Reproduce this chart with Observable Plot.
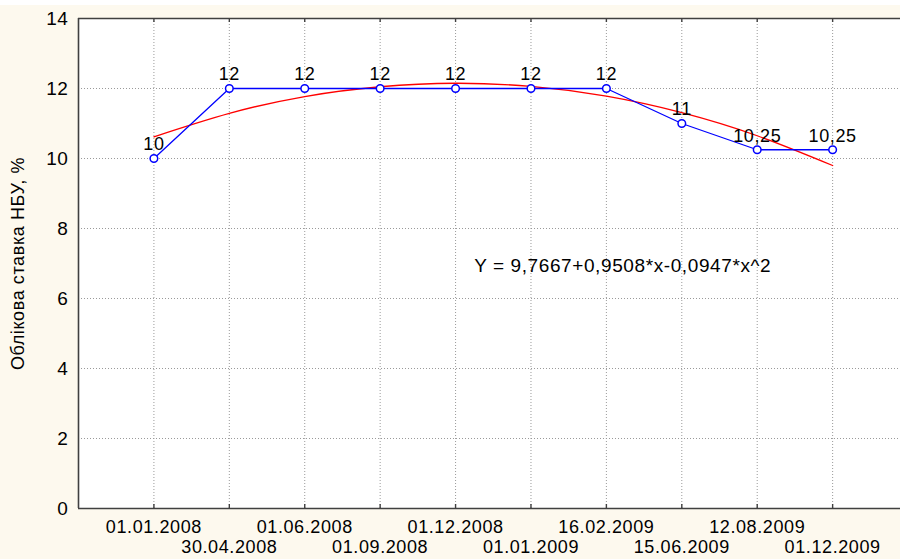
<!DOCTYPE html>
<html>
<head>
<meta charset="utf-8">
<script src="https://cdn.jsdelivr.net/npm/d3@7"></script>
<script src="https://cdn.jsdelivr.net/npm/@observablehq/plot@0.6"></script>
<style>
  html, body { margin: 0; padding: 0; background: #fdf9ee; }
  #wrap { width: 900px; height: 559px; border-top: 5px solid #ffffff; box-sizing: border-box; overflow: hidden; }
  svg { display: block; }
</style>
</head>
<body>
<div id="wrap"></div>
<script>
// Data
const dates = ["01.01.2008", "30.04.2008", "01.06.2008", "01.09.2008", "01.12.2008",
               "01.01.2009", "16.02.2009", "15.06.2009", "12.08.2009", "01.12.2009"];
const rates = [10, 12, 12, 12, 12, 12, 12, 11, 10.25, 10.25];
// red fitted trend curve, read at each observation
const trend = [10.62, 11.29, 11.77, 12.05, 12.15, 12.06, 11.78, 11.31, 10.65, 9.80];
const yTicks = [0, 2, 4, 6, 8, 10, 12, 14];
const equation = "Y = 9,7667+0,9508*x-0,0947*x^2";
const yLabel = "Облікова ставка НБУ, %";

const idx = dates.map((d, i) => i + 1);
const rows = dates.map((d, i) => ({i: i + 1, date: d, rate: rates[i], trend: trend[i],
  label: String(rates[i]).replace(".", ",")}));
const row1 = idx.filter(i => i % 2 === 1);
const row2 = idx.filter(i => i % 2 === 0);

const frameH = 554 - 13 - 51;

const chart = Plot.plot({
  width: 900,
  height: 554,
  marginLeft: 78,
  marginRight: 0,
  marginTop: 13,
  marginBottom: 51,
  x: {domain: [0, 10.9]},
  y: {domain: [0, 14]},
  style: {fontFamily: "'Liberation Sans', Arial, sans-serif", background: "transparent", color: "#000", letterSpacing: "0.6px"},
  marks: [
    Plot.frame({fill: "white", stroke: "none"}),
    Plot.gridX(idx, {stroke: "#9a9a9a", strokeOpacity: 1, strokeDasharray: "1,2"}),
    Plot.gridY(yTicks.filter(t => t > 0 && t < 14), {stroke: "#9a9a9a", strokeOpacity: 1, strokeDasharray: "1,2"}),
    Plot.ruleY([0, 14], {stroke: "#404040", strokeWidth: 1.6}),
    Plot.ruleX([0], {stroke: "#404040", strokeWidth: 1.6}),
    Plot.ruleX(idx, {stroke: "#404040", strokeWidth: 1.4, insetTop: frameH - 4}),
    Plot.ruleX(idx, {stroke: "#404040", strokeWidth: 1.4, insetBottom: frameH - 4}),
    Plot.axisX(row1, {tickSize: 0, tickPadding: 12, fontSize: 18, tickFormat: i => dates[i - 1], label: null}),
    Plot.axisX(row2, {tickSize: 0, tickPadding: 32, fontSize: 18, tickFormat: i => dates[i - 1], label: null}),
    Plot.axisY(yTicks, {tickSize: 0, tickPadding: 10, fontSize: 19, label: null}),
    Plot.text([yLabel], {frameAnchor: "left", textAnchor: "middle", rotate: -90, dx: -60, fontSize: 18, fill: "#000"}),
    Plot.line(rows, {x: "i", y: "trend", stroke: "#ff0000", strokeWidth: 1.3, curve: "natural"}),
    Plot.line(rows, {x: "i", y: "rate", stroke: "#0000ff", strokeWidth: 1.3}),
    Plot.dot(rows, {x: "i", y: "rate", r: 3.8, stroke: "#0000ff", strokeWidth: 1.5, fill: "white"}),
    Plot.text(rows, {x: "i", y: "rate", text: "label", dy: -14, fontSize: 18, fill: "#000"}),
    Plot.text([equation], {x: 7.216, y: 6.92, fontSize: 19, fill: "#000"})
  ]
});
document.getElementById("wrap").appendChild(chart);
</script>
</body>
</html>
